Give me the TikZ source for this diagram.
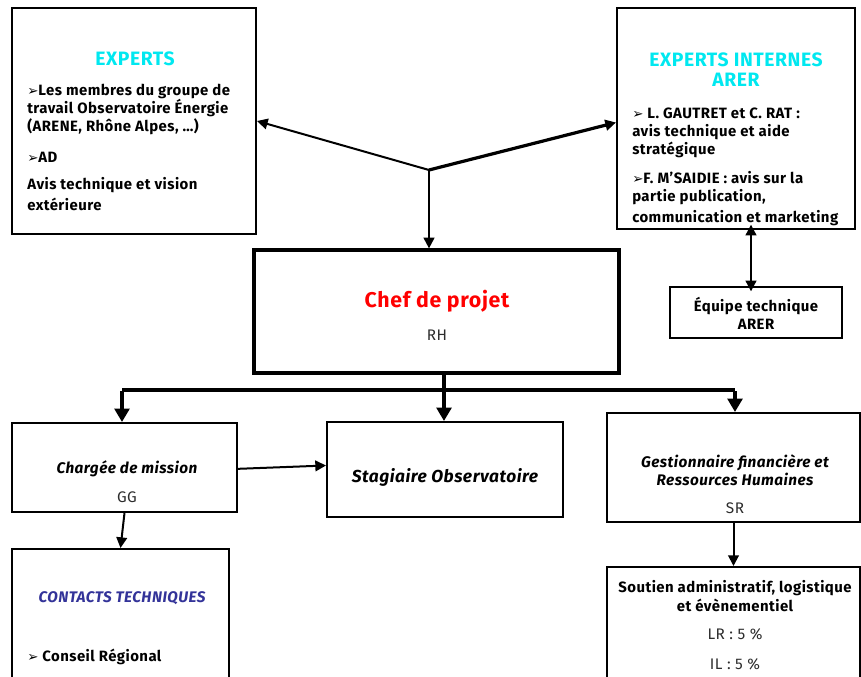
\documentclass[tikz,border=0pt]{standalone}
\usepackage{fontspec}
\setmainfont{Fira Sans}[LetterSpace=3]
\newfontfamily\dejafont{DejaVu Sans}
\usetikzlibrary{arrows.meta,fit}
\definecolor{cyanT}{RGB}{0,232,240}
\definecolor{redT}{RGB}{255,0,0}
\definecolor{blueT}{RGB}{51,51,153}
\definecolor{grayT}{RGB}{45,45,45}
\newcommand\bul{{\dejafont\fontsize{10}{10}\selectfont\char"27A2}}
\begin{document}
\begin{tikzpicture}[x=0.75pt,y=-0.75pt,
  box/.style={draw, line width=1.5pt, inner sep=0pt},
  thickbox/.style={draw, line width=2.4pt, inner sep=0pt},
  body/.style={font=\fontsize{11.2}{13.5}\selectfont\bfseries, inner sep=0pt},
  plain/.style={font=\fontsize{11.5}{13.5}\selectfont, text=grayT, inner sep=0pt, anchor=base},
  ital/.style={font=\fontsize{11.5}{13.5}\selectfont\bfseries\itshape, inner sep=0pt, anchor=base},
  ttl/.style={font=\fontsize{14.5}{16}\selectfont\bfseries, text=cyanT, inner sep=0pt, anchor=base},
  arr/.style={line width=1.5pt, -{Triangle[length=8pt,width=8pt]}},
  busarr/.style={line width=3pt, -{Triangle[length=10pt,width=11pt]}}
]
\useasboundingbox (0,0) rectangle (861,677);
\clip (0,0) rectangle (861,677);
\fill[white] (0,0) rectangle (861,677);

% boxes
\node[box, fit={(12,8)(256,234)}] (experts) {};
\node[box, fit={(617,8)(855,229)}] (interne) {};
\node[thickbox, fit={(254,250)(619,373)}] (chef) {};
\node[box, fit={(670,287)(842,338)}] (equipe) {};
\node[box, fit={(12,423)(237,512)}] (charg) {};
\node[box, fit={(327,422)(563,517)}] (stag) {};
\node[box, fit={(607,413)(860,522)}] (gest) {};
\node[box, fit={(607,567)(860,700)}] (sout) {};
\node[box, fit={(12,549)(229,700)}] (cont) {};

% EXPERTS texts
\node[ttl] (et) at (135,66) {EXPERTS};
\node[body, anchor=base west] (e1) at (27,96) {\bul Les membres du groupe de};
\node[body, anchor=base west] (e2) at (27,114) {travail Observatoire Énergie};
\node[body, anchor=base west] (e3) at (27,132) {(ARENE, Rhône Alpes, …)};
\node[body, anchor=base west] (e4) at (27,163) {\bul AD};
\node[body, anchor=base west] (e5) at (27,190) {Avis technique et vision};
\node[body, anchor=base west] (e6) at (27,211) {extérieure};

% EXPERTS INTERNES texts
\node[ttl] (it1) at (736,67) {EXPERTS INTERNES};
\node[ttl] (it2) at (736,87) {ARER};
\node[body, anchor=base west] (r1) at (632,119) {\bul\ L. GAUTRET et C. RAT :};
\node[body, anchor=base west] (r2) at (632,137) {avis technique et aide};
\node[body, anchor=base west] (r3) at (632,155) {stratégique};
\node[body, anchor=base west] (r4) at (632,184) {\bul F. M'SAIDIE : avis sur la};
\node[body, anchor=base west] (r5) at (632,202) {partie publication,};
\node[body, anchor=base west] (r6) at (632,223) {communication et marketing};

% Chef
\node[font=\fontsize{16}{18}\selectfont\bfseries, text=redT, inner sep=0pt, anchor=base] (ct) at (437,308) {Chef de projet};
\node[plain] (rh) at (437,341) {RH};

% Equipe
\node[body, anchor=base] (q1) at (756,312) {Équipe technique};
\node[body, anchor=base] (q2) at (756,330) {ARER};

% Chargee
\node[ital] (c1) at (127,474) {Chargée de mission};
\node[plain] (c2) at (127,502) {GG};

% Stagiaire
\node[ital, font=\fontsize{13}{14}\selectfont\bfseries\itshape] (s1) at (445,482) {Stagiaire Observatoire};

% Gestionnaire
\node[ital] (g1) at (735,467) {Gestionnaire financière et};
\node[ital] (g2) at (735,485) {Ressources Humaines};
\node[plain] (g3) at (735,513) {SR};

% Soutien
\node[body, anchor=base] (o1) at (735,592) {Soutien administratif, logistique};
\node[body, anchor=base] (o2) at (735,611) {et évènementiel};
\node[plain] (o3) at (735,639) {LR : 5 \%};
\node[plain] (o4) at (735,669) {IL : 5 \%};

% Contacts
\node[ital, text=blueT] (k1) at (122,602) {CONTACTS TECHNIQUES};
\node[body, anchor=base west] (k2) at (27,661) {\bul\ Conseil Régional};

% connectors top
\coordinate (jn) at (429,170);
\draw[arr] (jn) -- (experts.east);
\draw[line width=2.4pt, -{Triangle[length=8pt,width=8pt]}] (jn) -- ([yshift=-3]interne.west);
\draw[arr] (jn) -- (jn |- chef.north);

% double arrow
\coordinate (dA) at (751,0);
\draw[line width=1.5pt, {Triangle[length=8pt,width=8pt]}-{Triangle[length=8pt,width=8pt]}] ([yshift=4]interne.south -| dA) -- ([yshift=-4]equipe.north -| dA);

% bus
\coordinate (bm) at (444,390);
\coordinate (bl) at (122,390);
\coordinate (br) at (735,390);
\draw[line width=3pt] (chef.south -| bm) -- (bm);
\draw[line width=3pt] (bl) -- (br);
\draw[busarr] (bm) -- (stag.north -| bm);
\draw[busarr] ([yshift=-1]bl) -- (charg.north -| bl);
\draw[busarr] ([yshift=-1]br) -- (gest.north -| br);

% other arrows
\draw[arr] ([yshift=-1]charg.east) -- ([yshift=3]stag.west);
\draw[arr] (charg.south) -- (cont.north);
\draw[arr] (gest.south) -- (sout.north);
\end{tikzpicture}
\end{document}
